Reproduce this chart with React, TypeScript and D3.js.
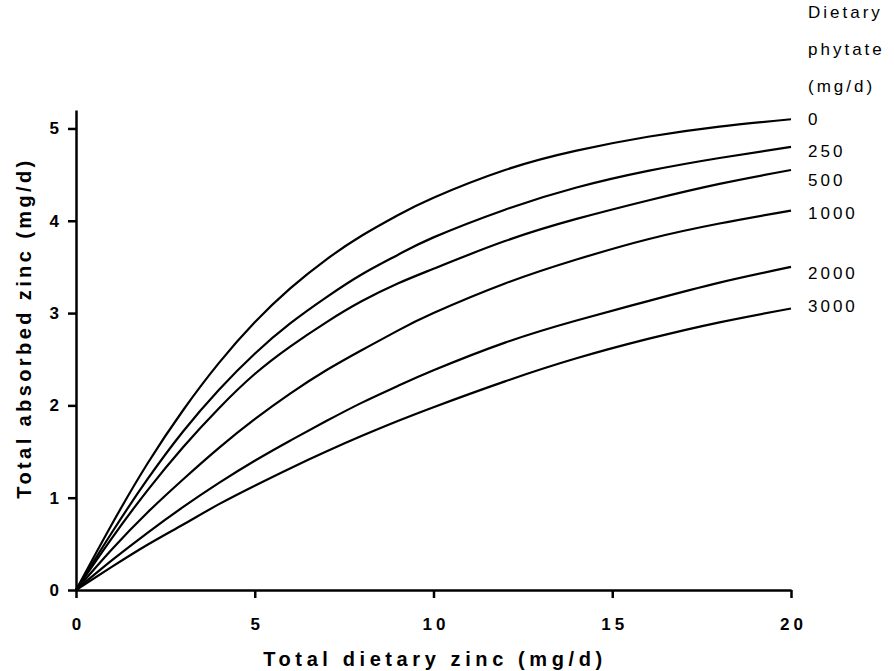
import React, { useRef, useEffect } from "react";
import { select, scaleLinear, axisBottom, axisLeft, line, curveNatural, format } from "d3";

// total dietary zinc (mg/d) where the curves were read
const zincIntake = [0, 1, 2, 3, 4, 5, 6, 7, 8, 9, 10, 12, 14, 16, 18, 20];

// total absorbed zinc (mg/d), one array per phytate level
const absorbedP0 = [0, 0.71, 1.37, 1.95, 2.46, 2.9, 3.27, 3.58, 3.84, 4.06, 4.25, 4.55, 4.76, 4.91, 5.02, 5.1];
const absorbedP250 = [0, 0.62, 1.2, 1.72, 2.17, 2.56, 2.89, 3.17, 3.42, 3.63, 3.82, 4.12, 4.36, 4.54, 4.68, 4.8];
const absorbedP500 = [0, 0.56, 1.08, 1.55, 1.97, 2.34, 2.64, 2.9, 3.13, 3.32, 3.48, 3.78, 4.02, 4.22, 4.4, 4.55];
const absorbedP1000 = [0, 0.44, 0.84, 1.2, 1.54, 1.85, 2.13, 2.38, 2.6, 2.81, 3.0, 3.32, 3.58, 3.8, 3.97, 4.11];
const absorbedP2000 = [0, 0.32, 0.62, 0.9, 1.16, 1.4, 1.62, 1.83, 2.03, 2.21, 2.38, 2.68, 2.92, 3.13, 3.33, 3.5];
const absorbedP3000 = [0, 0.25, 0.49, 0.71, 0.93, 1.13, 1.32, 1.5, 1.67, 1.83, 1.98, 2.26, 2.51, 2.72, 2.9, 3.05];

const phytateLabels = ["0", "250", "500", "1000", "2000", "3000"];
const legendTitle = ["Dietary", "phytate", "(mg/d)"];

const xTicks = [0, 5, 10, 15, 20];
const yTicks = [0, 1, 2, 3, 4, 5];

const series = [absorbedP0, absorbedP250, absorbedP500, absorbedP1000, absorbedP2000, absorbedP3000];

function App() {
  const svgRef = useRef(null);
  const width = 894;
  const height = 671;

  useEffect(() => {
    const svg = select(svgRef.current);
    svg.selectAll("*").remove();

    const xscale = scaleLinear().domain([0, 20]).range([76, 791]);
    const yscale = scaleLinear().domain([0, 5.2]).range([590, 110]);

    const font = "'Liberation Sans', Arial, sans-serif";

    // x axis
    const xaxis = axisBottom(xscale).tickValues(xTicks).tickSize(8).tickSizeOuter(0).tickPadding(20);
    const gx = svg.append("g").attr("transform", "translate(0,590)").call(xaxis);
    gx.select(".domain").attr("stroke-width", 2.5);
    gx.selectAll(".tick line").attr("stroke-width", 2.5);
    gx.selectAll(".tick text")
      .attr("font-family", font)
      .attr("font-weight", "bold")
      .attr("font-size", 17)
      .attr("letter-spacing", 4)
      .attr("dx", 2)
      .attr("fill", "#000");

    // y axis
    const yaxis = axisLeft(yscale).tickValues(yTicks).tickFormat(format("d")).tickSize(8).tickSizeOuter(0).tickPadding(9);
    const gy = svg.append("g").attr("transform", "translate(76,0)").call(yaxis);
    gy.select(".domain").attr("stroke-width", 2.5);
    gy.selectAll(".tick line").attr("stroke-width", 2.5);
    gy.selectAll(".tick text")
      .attr("font-family", font)
      .attr("font-weight", "bold")
      .attr("font-size", 17)
      .attr("fill", "#000");

    // curves
    const myLine = line<number>()
      .x((d, i) => xscale(zincIntake[i]))
      .y((d) => yscale(d))
      .curve(curveNatural);

    svg.append("g")
      .selectAll("path")
      .data(series)
      .join("path")
      .attr("d", (d) => myLine(d))
      .attr("fill", "none")
      .attr("stroke", "#000")
      .attr("stroke-width", 2.2);

    // curve labels, nudged a little so they don't collide
    const labelNudge = [1, 6, 12, 4, 8, -1];
    svg.append("g")
      .selectAll("text")
      .data(series)
      .join("text")
      .attr("x", 808)
      .attr("y", (d, i) => yscale(d[d.length - 1]) + labelNudge[i])
      .attr("dominant-baseline", "middle")
      .attr("font-family", font)
      .attr("font-size", 17)
      .attr("letter-spacing", 3)
      .text((d, i) => phytateLabels[i]);

    svg.append("g")
      .selectAll("text")
      .data(legendTitle)
      .join("text")
      .attr("x", 808)
      .attr("y", (d, i) => 14 + i * 37)
      .attr("dominant-baseline", "middle")
      .attr("font-family", font)
      .attr("font-size", 17)
      .attr("letter-spacing", 3)
      .text((d) => d);

    // axis titles
    svg.append("text")
      .attr("x", 435)
      .attr("y", 661)
      .attr("text-anchor", "middle")
      .attr("dominant-baseline", "middle")
      .attr("font-family", font)
      .attr("font-weight", "bold")
      .attr("font-size", 20)
      .attr("letter-spacing", 4.6)
      .text("Total dietary zinc (mg/d)");

    svg.append("text")
      .attr("transform", "translate(26,328) rotate(-90)")
      .attr("text-anchor", "middle")
      .attr("dominant-baseline", "middle")
      .attr("font-family", font)
      .attr("font-weight", "bold")
      .attr("font-size", 20)
      .attr("letter-spacing", 3.4)
      .text("Total absorbed zinc (mg/d)");
  }, []);

  return (
    <svg
      ref={svgRef}
      width={width}
      height={height}
      style={{ position: "absolute", left: 0, top: 0, background: "#fff" }}
    ></svg>
  );
}

export default App;
